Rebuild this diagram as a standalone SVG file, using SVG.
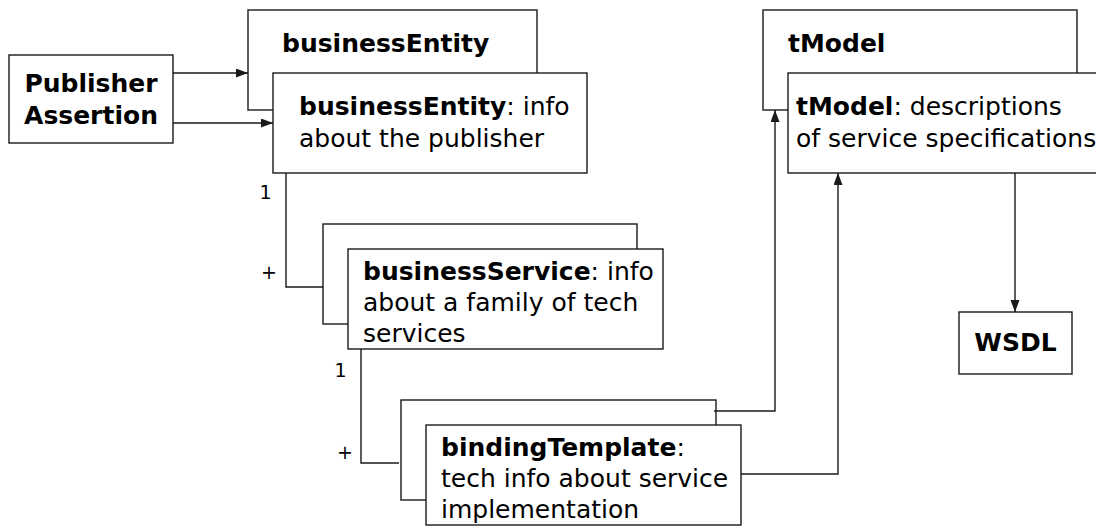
<svg xmlns="http://www.w3.org/2000/svg" width="1096" height="527" viewBox="0 0 1096 527">
<style>
.box{fill:#fff;stroke:#1a1a1a;stroke-width:1.4}
.ln{fill:none;stroke:#1a1a1a;stroke-width:1.4}
.t{font-family:"DejaVu Sans",sans-serif;font-size:25px;fill:#000}
.b{font-weight:bold}
.s{font-family:"DejaVu Sans",sans-serif;font-size:19px;fill:#000}
</style>
<defs>
<marker id="ah" markerUnits="userSpaceOnUse" markerWidth="13" markerHeight="10" refX="12" refY="4.5" orient="auto">
<path d="M0,0 L12,4.5 L0,9 z" fill="#1a1a1a"/>
</marker>
</defs>
<g id="publisherAssertion">
<rect class="box" x="9" y="55" width="164" height="88"/>
<text class="t b" x="91" y="92" text-anchor="middle">Publisher</text>
<text class="t b" x="91" y="124" text-anchor="middle">Assertion</text>
</g>
<g id="businessEntity">
<rect class="box" x="248" y="10" width="289" height="100"/>
<text class="t b" x="282" y="52">businessEntity</text>
<rect class="box" x="273" y="73" width="314" height="100"/>
<text class="t" x="299" y="115"><tspan class="b">businessEntity</tspan>: info</text>
<text class="t" x="299" y="147">about the publisher</text>
</g>
<g id="tModel">
<rect class="box" x="763" y="10" width="314" height="100"/>
<text class="t b" x="788" y="52">tModel</text>
<rect class="box" x="788" y="73" width="320" height="100"/>
<text class="t" x="796" y="115"><tspan class="b">tModel</tspan>: descriptions</text>
<text class="t" x="796" y="147">of service specifications</text>
</g>
<g id="wsdl">
<rect class="box" x="959" y="312" width="113" height="62"/>
<text class="t b" x="1015.5" y="351" text-anchor="middle">WSDL</text>
</g>
<g id="businessService">
<rect class="box" x="323" y="224" width="314" height="100"/>
<rect class="box" x="348" y="249" width="315" height="100"/>
<text class="t" x="363" y="280"><tspan class="b">businessService</tspan>: info</text>
<text class="t" x="363" y="311">about a family of tech</text>
<text class="t" x="363" y="342">services</text>
</g>
<g id="bindingTemplate">
<rect class="box" x="401" y="400" width="315" height="100"/>
<rect class="box" x="426" y="425" width="315" height="100"/>
<text class="t" x="441" y="456"><tspan class="b">bindingTemplate</tspan>:</text>
<text class="t" x="441" y="487">tech info about service</text>
<text class="t" x="441" y="518">implementation</text>
</g>
<g id="connectors">
<path class="ln" d="M173,73 H248" marker-end="url(#ah)"/>
<path class="ln" d="M173,123 H273" marker-end="url(#ah)"/>
<path class="ln" d="M286,173 V287 H323"/>
<text class="s" x="265.5" y="199" text-anchor="middle">1</text>
<text class="s" x="269" y="279" text-anchor="middle">+</text>
<path class="ln" d="M361,349 V463 H399"/>
<text class="s" x="340.5" y="377" text-anchor="middle">1</text>
<text class="s" x="345" y="459" text-anchor="middle">+</text>
<path class="ln" d="M714,411 H775 V110" marker-end="url(#ah)"/>
<path class="ln" d="M741,474 H838 V173" marker-end="url(#ah)"/>
<path class="ln" d="M1015,173 V312" marker-end="url(#ah)"/>
</g>
</svg>
